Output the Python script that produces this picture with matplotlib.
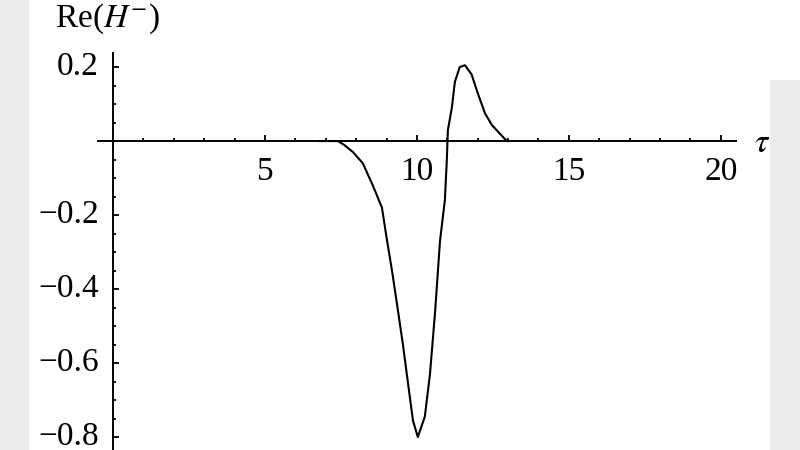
import numpy as np
import matplotlib
matplotlib.use("Agg")
import matplotlib.pyplot as plt
from matplotlib.patches import Rectangle
from matplotlib.ticker import MultipleLocator, FixedLocator
from matplotlib.transforms import ScaledTranslation

plt.rcParams['font.family'] = ['Liberation Serif', 'DejaVu Serif']
plt.rcParams['mathtext.fontset'] = 'stix'

# values
tau = [6.75, 7.4, 7.6, 7.9, 8.22, 8.55, 8.85, 9.0, 9.18, 9.38, 9.54, 9.7, 9.87,
       10.03, 10.26, 10.43, 10.6, 10.76, 10.92, 10.98, 11.02, 11.15, 11.25,
       11.41, 11.58, 11.8, 12.0, 12.24, 12.47, 12.9, 13.0]
re_h = [0, 0, -0.01, -0.03, -0.06, -0.12, -0.18, -0.26, -0.35, -0.46, -0.55, -0.65, -0.755,
        -0.80, -0.745, -0.63, -0.46, -0.27, -0.16, -0.06, 0.03, 0.09, 0.16,
        0.20, 0.205, 0.18, 0.13, 0.075, 0.043, 0.005, 0]

x_ticks = [5, 10, 15, 20]
y_ticks = [-0.8, -0.6, -0.4, -0.2, 0.2]
y_labels = ['\u22120.8', '\u22120.6', '\u22120.4', '\u22120.2', '0.2']

fig = plt.figure(figsize=(8, 4.5), dpi=100)
fig.patches.append(Rectangle((0, 0), 28 / 800, 1, transform=fig.transFigure,
                             color='#ececec', zorder=0))
fig.patches.append(Rectangle((770 / 800, 0), 30 / 800, 1 - 80 / 450,
                             transform=fig.transFigure, color='#ececec', zorder=0))

ax = fig.add_axes([97.8 / 800, 0, 638.2 / 800, 397 / 450])
ax.patch.set_alpha(0)
ax.plot(tau, re_h, color='black', lw=1.5)

ax.set_xlim(-0.5, 20.5)
ax.set_ylim(-0.835, 0.238)
ax.spines['left'].set_position(('data', 0))
ax.spines['bottom'].set_position(('data', 0))
ax.spines['top'].set_visible(False)
ax.spines['right'].set_visible(False)
for s in ['left', 'bottom']:
    ax.spines[s].set_linewidth(1.4)

ax.xaxis.set_major_locator(FixedLocator(x_ticks))
ax.xaxis.set_minor_locator(MultipleLocator(1))
ax.set_yticks(y_ticks)
ax.set_yticklabels(y_labels)
ax.yaxis.set_minor_locator(MultipleLocator(0.05))
ax.tick_params(which='both', direction='in', width=1.3, labelsize=24)
ax.tick_params(which='major', length=4.5)
ax.tick_params(which='minor', length=2.5)
ax.tick_params(axis='x', which='major', pad=11)
ax.tick_params(axis='y', which='major', pad=10)

# nudge y labels up a little, as in the reference
shift = ScaledTranslation(0, 3 / 72, fig.dpi_scale_trans)
for lab in ax.get_yticklabels():
    lab.set_transform(lab.get_transform() + shift)

fig.text(55 / 800, 1 - 2 / 450, r'Re($H^{-}$)', fontsize=24, va='top', ha='left')
fig.text(762 / 800, 1 - 144 / 450, r'$\tau$', fontsize=24, va='center', ha='center')

fig.savefig('out.png', dpi=100)
